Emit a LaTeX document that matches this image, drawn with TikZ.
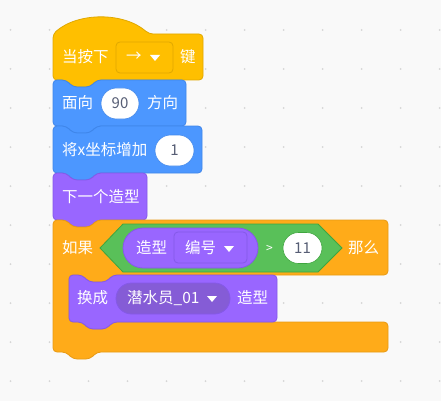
\documentclass[tikz,border=0pt]{standalone}
\usepackage{fontspec}
\setmainfont{Noto Sans CJK SC}

\definecolor{canvas}{HTML}{F9F9F9}
\definecolor{griddot}{HTML}{D6D6D6}
\definecolor{events}{HTML}{FFBF00}
\definecolor{eventsline}{HTML}{E0A800}
\definecolor{motion}{HTML}{4C97FF}
\definecolor{motionline}{HTML}{3F86EA}
\definecolor{looks}{HTML}{9966FF}
\definecolor{looksline}{HTML}{8559E8}
\definecolor{looksdark}{HTML}{855CD6}
\definecolor{control}{HTML}{FFAB19}
\definecolor{controlline}{HTML}{E89A14}
\definecolor{operators}{HTML}{59C059}
\definecolor{operatorsline}{HTML}{3FA53F}
\definecolor{numtext}{HTML}{575E75}

% stack block: x, y (top), width, height, fill, border
\newcommand{\stackblk}[6]{%
  \filldraw[blockline, fill=#5, draw=#6] (#1,#2) -- ++(13,0) -- ++(7,7) -- ++(17,0) -- ++(7,-7)
    -- ({#1+#3},#2) -- ({#1+#3},{#2+#4}) -- ({#1+44},{#2+#4}) -- ++(-7,7) -- ++(-17,0) -- ++(-7,-7)
    -- (#1,{#2+#4}) -- cycle;}

\begin{document}
\begin{tikzpicture}[x=1pt, y=-1pt,
  blockline/.style={line width=0.8pt, rounded corners=4pt, line join=round},
  lbl/.style={text=white, anchor=west, inner sep=0pt, font=\fontsize{15.5}{15.5}\selectfont},
  num/.style={text=numtext, inner sep=0pt, font=\fontsize{15}{15}\selectfont},
  oval/.style={fill=white, line width=0.6pt, rounded corners=15.5pt},
  fieldbox/.style={line width=0.8pt, rounded corners=4pt},
  droptip/.style={fill=white}]
	\useasboundingbox (0,0) rectangle (441,401);
	\fill[canvas] (0,0) rectangle (441,401);
	\foreach \i in {0,...,11}
		\foreach \j in {0,...,9}
			\fill[griddot] ({10.5+39*\i},{30+39*\j}) circle (1pt);

	% when key pressed
	\filldraw[blockline, fill=events, draw=eventsline] (53,34) .. controls (78,12) and (124,12) .. (149,34)
		-- (203,34) -- (203,80) -- (97,80) -- ++(-7,7) -- ++(-17,0) -- ++(-7,-7) -- (53,80) -- cycle;
	\node[lbl] (keyA) at (62,57) {当按下};
	\draw[fieldbox, fill=events, draw=eventsline] (116,42) rectangle (173,73);
	\node[lbl] (keyArrow) at (126,57) {→};
	\fill[droptip] (150,55) -- (160,55) -- (155,61) -- cycle;
	\node[lbl] (keyB) at (180,57) {键};

	% point in direction
	\stackblk{53}{80}{133}{46}{motion}{motionline}
	\node[lbl] (dirA) at (62,103) {面向};
	\draw[oval, draw=motionline] (101,88) rectangle (139,119);
	\node[num] (dirVal) at (120,103.5) {90};
	\node[lbl] (dirB) at (147,103) {方向};

	% change x by
	\stackblk{53}{126}{149}{47}{motion}{motionline}
	\node[lbl] (chgX) at (62,150) {将x坐标增加};
	\draw[oval, draw=motionline] (155,135) rectangle (194,166);
	\node[num] (chgVal) at (174.5,150.5) {1};

	% next costume
	\stackblk{53}{173}{94}{47}{looks}{looksline}
	\node[lbl] (nextCos) at (62,197) {下一个造型};

	% if ... then
	\filldraw[blockline, fill=control, draw=controlline] (53,220) -- ++(13,0) -- ++(7,7) -- ++(17,0) -- ++(7,-7)
		-- (388,220) -- (388,275) -- (113,275) -- ++(-7,7) -- ++(-17,0) -- ++(-7,-7) -- (69,275)
		-- (69,322) -- (82,322) -- ++(7,7) -- ++(17,0) -- ++(7,-7) -- (388,322) -- (388,352)
		-- (97,352) -- ++(-7,7) -- ++(-17,0) -- ++(-7,-7) -- (53,352) -- cycle;
	\node[lbl] (ifA) at (62,248) {如果};
	\filldraw[line width=0.8pt, fill=operators, draw=operatorsline] (100,248) -- (123,224) -- (318,224)
		-- (342,248) -- (318,272) -- (123,272) -- cycle;
	\filldraw[line width=0.8pt, fill=looks, draw=looksline, rounded corners=20pt] (123,228) rectangle (258,268);
	\node[lbl] (cosA) at (136,248) {造型};
	\draw[fieldbox, fill=looks, draw=looksline] (174,232) rectangle (247,263);
	\node[lbl] (cosNum) at (185,248) {编号};
	\fill[droptip] (224,246) -- (234,246) -- (229,252) -- cycle;
	\node[lbl, font=\fontsize{12}{12}\selectfont] (gtSign) at (266,249) {>};
	\draw[oval, draw=operatorsline] (283,232.5) rectangle (322,263.5);
	\node[num] (gtVal) at (302.5,248) {11};
	\node[lbl] (ifB) at (348,248) {那么};

	% switch costume to
	\stackblk{69}{275}{208}{47}{looks}{looksline}
	\node[lbl] (swA) at (77,298) {换成};
	\filldraw[line width=0.8pt, fill=looksdark, draw=looksline, rounded corners=15.5pt] (116,283) rectangle (230,314);
	\node[lbl] (swCos) at (127,298) {潜水员\_01};
	\fill[droptip] (207,296) -- (217,296) -- (212,302) -- cycle;
	\node[lbl] (swB) at (237,298) {造型};
\end{tikzpicture}
\end{document}
